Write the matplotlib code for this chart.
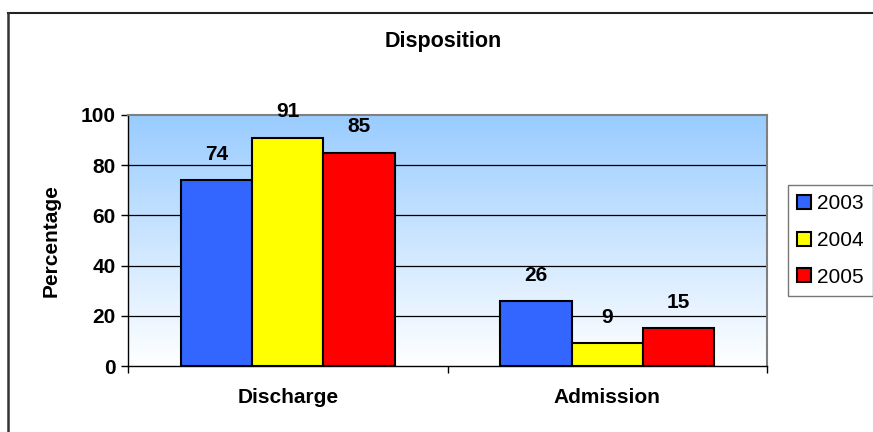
import numpy as np
import matplotlib
matplotlib.use("Agg")
import matplotlib.pyplot as plt
from matplotlib.colors import LinearSegmentedColormap
from matplotlib.lines import Line2D

plt.rcParams['font.family'] = ['Liberation Sans', 'DejaVu Sans']

categories = ["Discharge", "Admission"]
years = ["2003", "2004", "2005"]
values_2003 = [74, 26]
values_2004 = [91, 9]
values_2005 = [85, 15]
series = [values_2003, values_2004, values_2005]
colors = ["#3366FF", "#FFFF00", "#FF0000"]

W, H = 873, 432
fig = plt.figure(figsize=(W / 100, H / 100), dpi=100)
fig.patch.set_facecolor("white")

ax = fig.add_axes([128 / W, 1 - 366 / H, (767 - 128) / W, (366 - 115) / H])

# gradient plot background
grad = LinearSegmentedColormap.from_list("bg", ["#FFFFFF", "#99CCFF"])
g = np.linspace(0, 1, 256).reshape(-1, 1)
ax.imshow(g, cmap=grad, origin="lower", aspect="auto",
          extent=(-0.5, 1.5, 0, 100), zorder=0)

ax.set_xlim(-0.5, 1.5)
ax.set_ylim(0, 100)

bar_w = 0.223
x = np.arange(len(categories))
for i, (vals, col, yr) in enumerate(zip(series, colors, years)):
    pos = x + (i - 1) * bar_w
    ax.bar(pos, vals, width=bar_w, color=col, edgecolor="black",
           linewidth=1.5, label=yr, zorder=3)
    for px, v in zip(pos, vals):
        ax.annotate(str(v), (px, v), xytext=(0, 18.5), textcoords="offset points",
                    ha="center", va="center", fontsize=15, fontweight="bold",
                    zorder=4)

# gridlines
for yv in [20, 40, 60, 80]:
    ax.axhline(yv, color="black", lw=0.9, zorder=1)

ax.set_yticks([0, 20, 40, 60, 80, 100])
ax.tick_params(axis="y", length=5, width=1, pad=4, labelsize=15)
for t in ax.get_yticklabels():
    t.set_fontweight("bold")

ax.set_xticks(x)
ax.set_xticklabels(categories, fontsize=15, fontweight="bold")
ax.tick_params(axis="x", which="major", length=0, pad=16)
ax.set_xticks([-0.5, 0.5, 1.5], minor=True)
ax.tick_params(axis="x", which="minor", length=5, width=1)

for s in ["left", "bottom"]:
    ax.spines[s].set_color("black")
    ax.spines[s].set_linewidth(1)
for s in ["top", "right"]:
    ax.spines[s].set_color("#808080")
    ax.spines[s].set_linewidth(1.5)

ax.set_ylabel("Percentage", fontsize=15, fontweight="bold", labelpad=14)

fig.text(443 / W, 1 - 41 / H, "Disposition", ha="center", va="center",
         fontsize=15.5, fontweight="bold")

leg = ax.legend(loc="center left", bbox_to_anchor=(788 / W, 1 - 240.5 / H),
                bbox_transform=fig.transFigure, fontsize=15, frameon=True,
                fancybox=False, handlelength=0.65, handleheight=0.65,
                handletextpad=0.3, labelspacing=0.85, borderpad=0.45,
                borderaxespad=0)
leg.get_frame().set_edgecolor("#555555")
leg.get_frame().set_linewidth(1)
for h in leg.legend_handles:
    h.set_linewidth(1.5)

# chart-area border
fig.add_artist(Line2D([8 / W, 1], [1 - 13 / H, 1 - 13 / H], color="#222222", lw=1.5,
                      transform=fig.transFigure))
fig.add_artist(Line2D([8 / W, 8 / W], [0, 1 - 13 / H], color="#333333", lw=1.8,
                      transform=fig.transFigure))

fig.savefig("out.png", dpi=100)
